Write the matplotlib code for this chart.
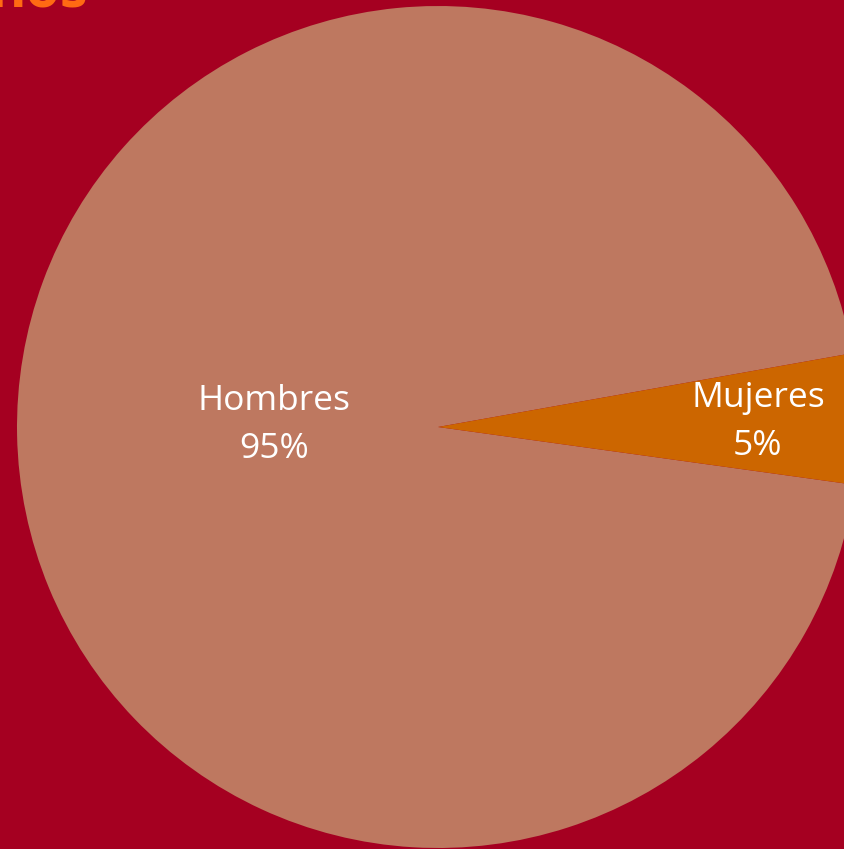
import matplotlib
matplotlib.use("Agg")
import matplotlib.pyplot as plt
import numpy as np

categories = ["Hombres", "Mujeres"]
values = [95, 5]
pct_labels = ["95%", "5%"]
colors = ["#BE7860", "#CC6600"]
bg = "#A50021"

W, H = 844, 849
fig = plt.figure(figsize=(W / 100, H / 100), dpi=100, facecolor=bg)
ax = fig.add_axes([0, 0, 1, 1])
ax.set_facecolor(bg)

cx, cy, r = 438, H - 427, 421
start = 10.1
wedges, _ = ax.pie(values, colors=colors, startangle=start, counterclock=True,
                   center=(cx, cy), radius=r, frame=True,
                   wedgeprops=dict(linewidth=0))
ax.set_xlim(0, W)
ax.set_ylim(0, H)
ax.set_aspect("equal")
ax.axis("off")

dists = [0.39, 0.76]
yoff = [5, -1]
for w, cat, p, d, dy in zip(wedges, categories, pct_labels, dists, yoff):
    mid = np.deg2rad((w.theta1 + w.theta2) / 2)
    x = cx + d * r * np.cos(mid)
    y = cy + d * r * np.sin(mid) + dy
    ax.text(x, y, f"{cat}\n{p}", ha="center", va="center", color="white",
            fontsize=25.5, family="Open Sans", linespacing=1.55)

fig.text(-0.012, (H - 8) / H, "nos", color="#FF6A13", fontsize=40,
         fontweight="bold", family="Open Sans", ha="left", va="baseline")

fig.savefig("out.png", dpi=100, facecolor=bg)
